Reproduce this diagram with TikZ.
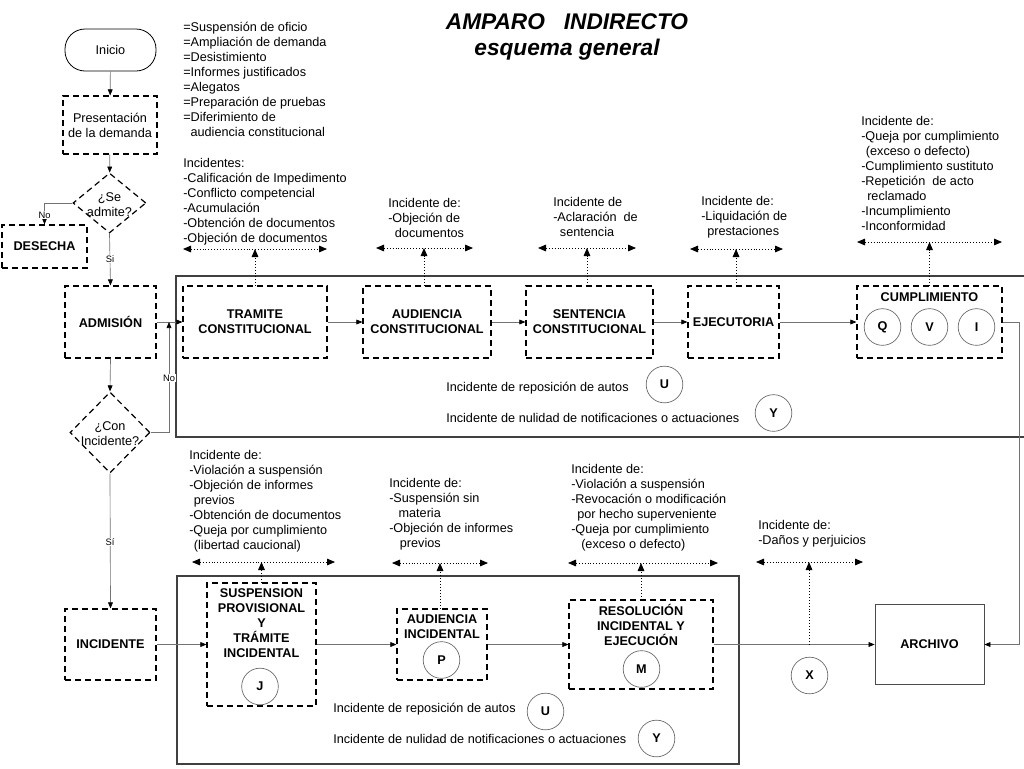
\documentclass[tikz,border=0pt]{standalone}
\usepackage{fontspec}
\setmainfont{Liberation Sans}
\usetikzlibrary{arrows.meta,shapes.geometric}
\begin{document}
\begin{tikzpicture}[x=0.75pt,y=-0.75pt,
  every node/.style={font=\fontsize{9.5}{11.25}\selectfont, inner sep=0pt},
  dbox/.style={draw=black, line width=0.9pt, dash pattern=on 4.5pt off 3pt, align=center, font=\fontsize{9.5}{11.25}\selectfont\bfseries},
  ddia/.style={diamond, draw=black, line width=0.9pt, dash pattern=on 4.5pt off 3pt},
  conn/.style={draw=black!55, line width=0.5pt},
  arr/.style={conn, -{Triangle[length=4.5pt,width=3.6pt,color=black]}},
  dotline/.style={draw=black, line width=0.6pt, dash pattern=on 0.6pt off 1.6pt},
  darr/.style={dotline, {Triangle[length=6pt,width=5pt]}-{Triangle[length=6pt,width=5pt]}},
  uarr/.style={dotline, -{Triangle[length=6pt,width=5pt]}},
  circ/.style={circle, draw=black!60, line width=0.5pt, minimum size=27.5pt, font=\fontsize{9.5}{11}\selectfont\bfseries},
  bigbox/.style={draw=black!75, line width=1.1pt},
  txt/.style={anchor=north west, align=left},
  lbl/.style={font=\fontsize{7}{8}\selectfont, fill=white, inner sep=0.6pt}
]
\useasboundingbox (0,0) rectangle (1024,768);

% title
\node[align=center, font=\fontsize{17}{19.5}\selectfont\bfseries\itshape] (title) at (567,37) {AMPARO\ \ \ INDIRECTO\\esquema general};

% big frames
\draw[bigbox] (1024,276) -- (176,276) -- (176,437) -- (1024,437);
\draw[bigbox] (177,576) rectangle (739,764);

% left column
\node[draw=black, line width=0.6pt, rounded corners=15pt, minimum width=68.25pt, minimum height=31.5pt] (inicio) at (110.5,50) {Inicio};
\node[dbox, font=\fontsize{9.5}{11.25}\selectfont, minimum width=70.5pt, minimum height=43.5pt] (pres) at (110,125) {Presentación\\de la demanda};
\node[ddia, minimum width=54.75pt, minimum height=45pt] (admite) at (109.5,203) {};
\node[align=center] (admitet) at (109.5,204.5) {¿Se\\admite?};
\node[dbox, minimum width=63.75pt, minimum height=32.25pt] (desecha) at (44.5,246.5) {DESECHA};
\node[dbox, minimum width=68.25pt, minimum height=54pt] (admision) at (110.5,322) {ADMISIÓN};
\node[ddia, minimum width=60pt, minimum height=60.75pt] (con) at (110,432.5) {};
\node[align=center] (cont) at (110,434) {¿Con\\Incidente?};
\node[dbox, minimum width=68.25pt, minimum height=53.25pt] (incidente) at (110.5,644.5) {INCIDENTE};

% upper row
\node[dbox, minimum width=108pt, minimum height=54pt] (tramite) at (255,322) {TRAMITE\\CONSTITUCIONAL};
\node[dbox, minimum width=96pt, minimum height=54pt] (audc) at (427,322) {AUDIENCIA\\CONSTITUCIONAL};
\node[dbox, minimum width=95.25pt, minimum height=54pt] (sent) at (589.5,322) {SENTENCIA\\CONSTITUCIONAL};
\node[dbox, minimum width=68.25pt, minimum height=54pt] (ejec) at (733.5,322) {EJECUTORIA};
\node[dbox, minimum width=108.75pt, minimum height=54pt] (cumpl) at (929.5,322) {};
\node[font=\fontsize{9.5}{11.25}\selectfont\bfseries] (cumplt) at (929.5,297) {CUMPLIMIENTO};
\node[circ] (q) at (882.5,327) {Q};
\node[circ] (v) at (929.5,327) {V};
\node[circ] (i) at (976.5,327) {I};
\node[anchor=west] (repo1) at (446,388) {Incidente de reposición de autos};
\node[circ] (u1) at (664.5,384.5) {U};
\node[anchor=west] (nul1) at (446,418) {Incidente de nulidad de notificaciones o actuaciones};
\node[circ] (y1) at (773.5,413) {Y};

% lower row
\node[dbox, minimum width=81.75pt, minimum height=92.25pt] (susp) at (261.5,644.5) {};
\node[align=center, font=\fontsize{9.5}{11.25}\selectfont\bfseries] (suspt) at (261.5,623) {SUSPENSION\\PROVISIONAL\\Y\\TRÁMITE\\INCIDENTAL};
\node[circ] (j) at (260,686.5) {J};
\node[dbox, minimum width=67.5pt, minimum height=53.25pt] (audi) at (442,644.5) {};
\node[align=center, font=\fontsize{9.5}{11.25}\selectfont\bfseries] (audit) at (442,627) {AUDIENCIA\\INCIDENTAL};
\node[circ] (p) at (441.5,660) {P};
\node[dbox, minimum width=108pt, minimum height=66.75pt] (resol) at (641,644.5) {};
\node[align=center, font=\fontsize{9.5}{11.25}\selectfont\bfseries] (resolt) at (641,625) {RESOLUCIÓN\\INCIDENTAL Y\\EJECUCIÓN};
\node[circ] (m) at (641.5,669) {M};
\node[draw=black!70, line width=0.6pt, minimum width=81.75pt, minimum height=60pt, font=\fontsize{9.5}{11.25}\selectfont\bfseries] (archivo) at (929.5,644.5) {ARCHIVO};
\node[circ] (x) at (809.5,675.5) {X};
\node[anchor=west] (repo2) at (333,709) {Incidente de reposición de autos};
\node[circ] (u2) at (545.5,711.5) {U};
\node[anchor=west] (nul2) at (333,739) {Incidente de nulidad de notificaciones o actuaciones};
\node[circ] (y2) at (656.5,738.5) {Y};

% text blocks
\node[txt] (t1) at (183,22) {=Suspensión de oficio\\=Ampliación de demanda\\=Desistimiento\\=Informes justificados\\=Alegatos\\=Preparación de pruebas\\=Diferimiento de\\\hspace*{5.5pt}audiencia constitucional};
\node[txt] (t2) at (183,158) {Incidentes:\\-Calificación de Impedimento\\-Conflicto competencial\\-Acumulación\\-Obtención de documentos\\-Objeción de documentos};
\node[txt] (t3) at (388,198) {Incidente de:\\-Objeción de\\\hspace*{5pt}documentos};
\node[txt] (t4) at (553,197) {Incidente de\\-Aclaración\ \ de\\\hspace*{5pt}sentencia};
\node[txt] (t5) at (701,196) {Incidente de:\\-Liquidación de\\\hspace*{4.5pt}prestaciones};
\node[txt] (t6) at (861,116.5) {Incidente de:\\-Queja por cumplimiento\\\hspace*{3.5pt}(exceso o defecto)\\-Cumplimiento sustituto\\-Repetición\ \ de acto\\\hspace*{4.5pt}reclamado\\-Incumplimiento\\-Inconformidad};
\node[txt] (t7) at (189,450) {Incidente de:\\-Violación a suspensión\\-Objeción de informes\\\hspace*{3.5pt}previos\\-Obtención de documentos\\-Queja por cumplimiento\\\hspace*{3.5pt}(libertad caucional)};
\node[txt] (t8) at (389,478) {Incidente de:\\-Suspensión sin\\\hspace*{7pt}materia\\-Objeción de informes\\\hspace*{8pt}previos};
\node[txt] (t9) at (571,464) {Incidente de:\\-Violación a suspensión\\-Revocación o modificación\\\hspace*{4.5pt}por hecho superveniente\\-Queja por cumplimiento\\\hspace*{7.5pt}(exceso o defecto)};
\node[txt] (t10) at (758,520) {Incidente de:\\-Daños y perjuicios};

% flow connectors
\draw[arr] (inicio) -- (pres);
\draw[arr] (pres) -- (admite);
\draw[arr] (admite.west) -| (desecha.north);
\node[lbl] (no1) at (44.5,215) {No};
\draw[arr] (admite.south) -- (admision.north);
\node[lbl] (si1) at (110,259) {Si};
\draw[arr] (admision.east) -- (tramite.west);
\draw[arr] (admision.south) -- (con.north);
\coordinate (nojoin) at (169,322);
\draw[arr] (con.east) -| (nojoin);
\node[lbl] (no2) at (169,378) {No};
\draw[arr] (con.south) -- (incidente.north);
\node[lbl] (si2) at (110,542) {Sí};
\draw[arr] (incidente.east) -- (susp.west);
\draw[arr] (tramite.east) -- (audc.west);
\draw[arr] (audc.east) -- (sent.west);
\draw[arr] (sent.east) -- (ejec.west);
\draw[arr] (ejec.east) -- (cumpl.west);
\coordinate (rc) at (1019,322);
\draw[arr] (cumpl.east) -- (rc) |- (archivo.east);
\draw[arr] (susp.east) -- (audi.west);
\draw[arr] (audi.east) -- (resol.west);
\draw[arr] (resol.east) -- (archivo.west);

% dotted incident arrows
\coordinate (g1l) at (183,249); \coordinate (g1r) at (327,249);
\draw[darr] (g1l) -- (g1r); \draw[uarr] (tramite.north) -- (tramite.north |- g1l);
\coordinate (g2l) at (376,248); \coordinate (g2r) at (473,248);
\draw[darr] (g2l) -- (g2r); \draw[uarr] ([xshift=-2.25pt]audc.north) -- ([xshift=-2.25pt]audc.north |- g2l);
\coordinate (g3l) at (538,248); \coordinate (g3r) at (636,248);
\draw[darr] (g3l) -- (g3r); \draw[uarr] ([xshift=-1.9pt]sent.north) -- ([xshift=-1.9pt]sent.north |- g3l);
\coordinate (g4l) at (690,249); \coordinate (g4r) at (783,249);
\draw[darr] (g4l) -- (g4r); \draw[uarr] ([xshift=1.9pt]ejec.north) -- ([xshift=1.9pt]ejec.north |- g4l);
\coordinate (g5l) at (857,242); \coordinate (g5r) at (1002,242);
\draw[darr] (g5l) -- (g5r); \draw[uarr] (cumpl.north) -- (cumpl.north |- g5l);
\coordinate (g6l) at (192,562); \coordinate (g6r) at (335,562);
\draw[darr] (g6l) -- (g6r); \draw[uarr] (susp.north) -- (susp.north |- g6l);
\coordinate (g7l) at (392,563); \coordinate (g7r) at (488,563);
\draw[darr] (g7l) -- (g7r); \draw[uarr] ([xshift=-1.5pt]audi.north) -- ([xshift=-1.5pt]audi.north |- g7l);
\coordinate (g8l) at (568,563); \coordinate (g8r) at (718,563);
\draw[darr] (g8l) -- (g8r); \draw[uarr] (resol.north) -- (resol.north |- g8l);
\coordinate (g9l) at (756,562); \coordinate (g9r) at (863,562);
\coordinate (xjoin) at (809,644.5);
\draw[darr] (g9l) -- (g9r); \draw[uarr] (xjoin) -- (xjoin |- g9l);
\end{tikzpicture}
\end{document}
